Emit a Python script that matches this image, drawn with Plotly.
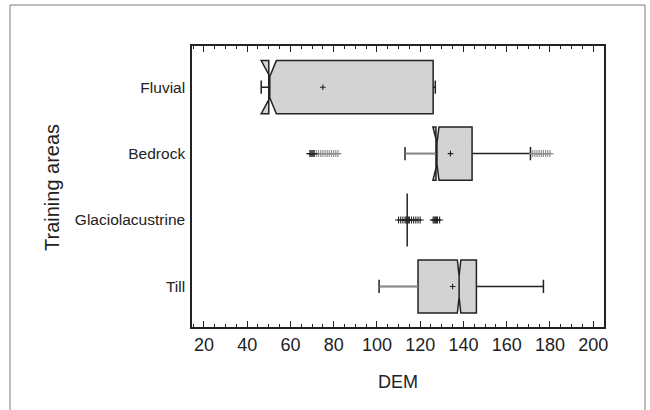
import plotly.graph_objects as go

categories = ["Fluvial", "Bedrock", "Glaciolacustrine", "Till"]
q1 = [50, 127.3, 114, 119]
median = [50, 127.3, 114, 138]
q3 = [126, 144, 114, 146]
lower_fence = [50, 113, 114, 101]
upper_fence = [127, 171, 114, 177]
notch_span = [3.5, 1.4, 0.0, 0.8]
means = [75, 134, 115, 135]

bedrock_low_dark = [69, 69.5, 70, 70.5, 71]
bedrock_low_gray = [72, 73, 74, 75, 76, 77, 78, 79, 80, 81, 82]
bedrock_high_gray = [172, 173, 174, 175, 176, 177, 178, 179, 180]
glacio_out_a = [110, 111, 112, 113, 113.5, 114, 114.5, 115, 116, 117, 118, 119, 120]
glacio_out_b = [126, 126.5, 127, 127.5, 128, 129]

DARK = "#222222"
GRAY = "#8a8a8a"

fig = go.Figure()

fig.add_trace(go.Box(
    y=categories, q1=q1, median=median, q3=q3,
    lowerfence=lower_fence, upperfence=upper_fence,
    notched=True, notchspan=notch_span, notchwidth=0.3,
    orientation="h", boxpoints=False, width=0.8, whiskerwidth=0.25,
    fillcolor="rgb(211,211,211)", line=dict(color=DARK, width=1.5),
    showlegend=False, hoverinfo="skip",
))

# gray lower whiskers
for c, lf, a in zip(categories, lower_fence, q1):
    if a > lf:
        fig.add_trace(go.Scatter(x=[lf, a], y=[c, c], mode="lines",
                                 line=dict(color=GRAY, width=1.3),
                                 showlegend=False, hoverinfo="skip"))

def pts(xs, cat, color, size=5):
    fig.add_trace(go.Scatter(x=xs, y=[cat] * len(xs), mode="markers",
                             marker=dict(symbol="cross-thin", size=size,
                                         line=dict(color=color, width=1.1)),
                             showlegend=False, hoverinfo="skip"))

pts(bedrock_low_gray, "Bedrock", GRAY)
pts(bedrock_low_dark, "Bedrock", DARK)
pts(bedrock_high_gray, "Bedrock", GRAY)
pts(glacio_out_a, "Glaciolacustrine", DARK)
pts(glacio_out_b, "Glaciolacustrine", DARK)

fig.add_trace(go.Scatter(x=means, y=categories, mode="markers",
                         marker=dict(symbol="cross-thin", size=4,
                                     line=dict(color=DARK, width=1.1)),
                         showlegend=False, hoverinfo="skip"))

font_family = "Liberation Sans, Arial, Helvetica, sans-serif"
L, R, T, B = 192, 46, 46, 83
pw, ph = 650 - L - R, 410 - T - B

fig.update_layout(
    width=650, height=410,
    margin=dict(l=L, r=R, t=T, b=B, autoexpand=False),
    paper_bgcolor="white", plot_bgcolor="white",
    font=dict(family=font_family, color="#222"),
    xaxis=dict(
        range=[14.5, 205], tickvals=list(range(20, 201, 20)),
        ticks="inside", ticklen=6, tickwidth=1.3, tickcolor=DARK,
        minor=dict(dtick=5, tick0=0, ticks="inside", ticklen=3, tickcolor=DARK, tickwidth=1),
        showline=True, linecolor=DARK, linewidth=1.5, mirror="ticks",
        showgrid=False, zeroline=False, automargin=False,
        tickfont=dict(size=18), ticklabelstandoff=1,
    ),
    yaxis=dict(
        type="category", categoryorder="array", categoryarray=categories,
        range=[3.61, -0.62], ticks="", showline=True, linecolor=DARK,
        linewidth=1.5, mirror=True, showgrid=False, zeroline=False, automargin=False,
        tickfont=dict(size=15.5), ticklabelstandoff=2,
    ),
    annotations=[
        dict(text="DEM", xref="paper", yref="paper", x=0.5, y=(410 - B - 382) / ph,
             xanchor="center", yanchor="middle", showarrow=False, font=dict(size=18)),
        dict(text="Training areas", xref="paper", yref="paper",
             x=(52 - L) / pw, y=(410 - B - 188) / ph,
             xanchor="center", yanchor="middle", showarrow=False,
             font=dict(size=20), textangle=-90),
    ],
)

fig.add_shape(type="path", xref="paper", yref="paper",
              path=f"M {(10-L)/pw} {(327-420)/ph} L {(10-L)/pw} {(327-5)/ph} "
                   f"L {(645-L)/pw} {(327-5)/ph} L {(645-L)/pw} {(327-420)/ph}",
              line=dict(color="#7a7a7a", width=1))

fig.write_html("out.html", config={"displayModeBar": False},
               post_script="document.body.style.margin='0';")
